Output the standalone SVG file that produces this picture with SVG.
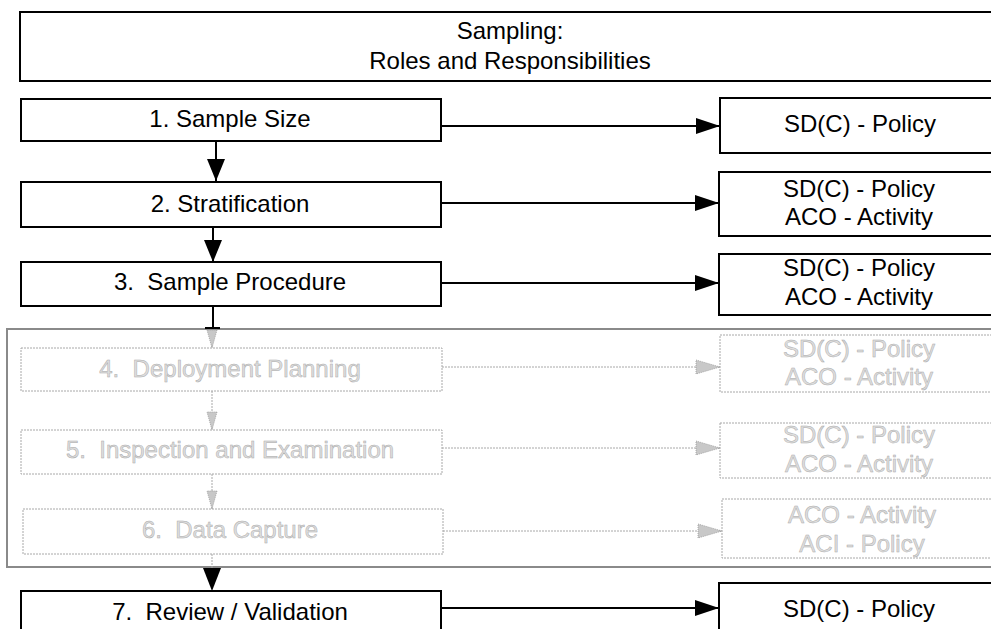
<svg xmlns="http://www.w3.org/2000/svg" width="991" height="629" viewBox="0 0 991 629">
<style>
  text { font-family: "Liberation Sans", Arial, sans-serif; font-size: 24px; text-anchor: middle; white-space: pre; }
  .box { fill: #ffffff; stroke: #000000; stroke-width: 2; }
  .dbox { fill: #ffffff; stroke: #a8a8a8; stroke-width: 1; stroke-dasharray: 2 1; }
  .dtext { fill: #dedede; stroke: #ababab; stroke-width: 0.5; }
  .conn { stroke: #000000; stroke-width: 2; fill: none; }
  .dconn { stroke: #a8a8a8; stroke-width: 1; stroke-dasharray: 2 1; fill: none; }
  .head { fill: #000000; }
  .group { fill: none; stroke: #8a8a8a; stroke-width: 2; }
</style>
<defs>
  <marker id="arrH" markerUnits="userSpaceOnUse" viewBox="0 0 24 16" markerWidth="24" markerHeight="16" refX="24" refY="8" orient="auto">
    <path d="M0,0 L24,8 L0,16 Z" fill="#000000"/>
  </marker>
  <marker id="arrV" markerUnits="userSpaceOnUse" viewBox="0 0 22 18" markerWidth="22" markerHeight="18" refX="22" refY="9" orient="auto">
    <path d="M0,0 L22,9 L0,18 Z" fill="#000000"/>
  </marker>
  <marker id="darrH" markerUnits="userSpaceOnUse" viewBox="0 0 26 16" markerWidth="26" markerHeight="16" refX="25" refY="8" orient="auto">
    <path d="M1,1 L25,8 L1,15 Z" fill="#c8c8c8" stroke="#9a9a9a" stroke-width="0.8" stroke-dasharray="1 1"/>
  </marker>
  <marker id="darrV" markerUnits="userSpaceOnUse" viewBox="0 0 20 12" markerWidth="20" markerHeight="12" refX="19" refY="6" orient="auto">
    <path d="M1,1 L19,6 L1,11 Z" fill="#c8c8c8" stroke="#9a9a9a" stroke-width="0.8" stroke-dasharray="1 1"/>
  </marker>
</defs>

<rect width="991" height="629" fill="#ffffff"/>

<g id="optional-group">
  <rect class="group" x="7" y="329" width="1000" height="238"/>
</g>

<g id="connectors">
  <line class="conn" x1="216" y1="141" x2="216" y2="181" marker-end="url(#arrV)"/>
  <line class="conn" x1="213" y1="227" x2="213" y2="262" marker-end="url(#arrV)"/>
  <line class="conn" x1="213" y1="306" x2="213" y2="328"/>
  <line class="conn" x1="205" y1="328" x2="220" y2="328"/>
  <line class="dconn" x1="212" y1="330" x2="212" y2="348" marker-end="url(#darrV)"/>
  <line class="dconn" x1="212" y1="391" x2="212" y2="430" marker-end="url(#darrV)"/>
  <line class="dconn" x1="212" y1="474" x2="212" y2="509" marker-end="url(#darrV)"/>
  <line class="dconn" x1="212" y1="554" x2="212" y2="568"/>
  <path class="head" d="M203,568 L221,568 L212,591 Z"/>
  <line class="conn" x1="441" y1="126" x2="720" y2="126" marker-end="url(#arrH)"/>
  <line class="conn" x1="441" y1="203" x2="719" y2="203" marker-end="url(#arrH)"/>
  <line class="conn" x1="441" y1="283" x2="719" y2="283" marker-end="url(#arrH)"/>
  <line class="dconn" x1="442" y1="367" x2="720" y2="367" marker-end="url(#darrH)"/>
  <line class="dconn" x1="442" y1="448" x2="720" y2="448" marker-end="url(#darrH)"/>
  <line class="dconn" x1="443" y1="531" x2="722" y2="531" marker-end="url(#darrH)"/>
  <line class="conn" x1="441" y1="608" x2="719" y2="608" marker-end="url(#arrH)"/>
</g>

<g id="title">
  <rect class="box" x="20" y="12" width="985" height="69"/>
  <text x="510" y="39">Sampling:</text>
  <text x="510" y="69">Roles and Responsibilities</text>
</g>

<g id="step1">
  <rect class="box" x="21" y="99" width="420" height="42"/>
  <text x="230" y="127">1. Sample Size</text>
</g>
<g id="role1">
  <rect class="box" x="720" y="98" width="285" height="55"/>
  <text x="860" y="132">SD(C) - Policy</text>
</g>

<g id="step2">
  <rect class="box" x="21" y="182" width="420" height="45"/>
  <text x="230" y="212">2. Stratification</text>
</g>
<g id="role2">
  <rect class="box" x="719" y="172" width="286" height="64"/>
  <text x="859" y="197">SD(C) - Policy</text>
  <text x="859" y="225">ACO - Activity</text>
</g>

<g id="step3">
  <rect class="box" x="21" y="262" width="420" height="44"/>
  <text x="230" y="290">3.  Sample Procedure</text>
</g>
<g id="role3">
  <rect class="box" x="719" y="254" width="286" height="61"/>
  <text x="859" y="276">SD(C) - Policy</text>
  <text x="859" y="305">ACO - Activity</text>
</g>

<g id="step4">
  <rect class="dbox" x="21" y="348" width="421" height="43"/>
  <text class="dtext" x="230" y="377">4.  Deployment Planning</text>
</g>
<g id="role4">
  <rect class="dbox" x="720" y="335" width="285" height="57"/>
  <text class="dtext" x="859" y="357">SD(C) - Policy</text>
  <text class="dtext" x="859" y="385">ACO - Activity</text>
</g>

<g id="step5">
  <rect class="dbox" x="21" y="430" width="421" height="44"/>
  <text class="dtext" x="230" y="458">5.  Inspection and Examination</text>
</g>
<g id="role5">
  <rect class="dbox" x="720" y="423" width="285" height="55"/>
  <text class="dtext" x="859" y="443">SD(C) - Policy</text>
  <text class="dtext" x="859" y="472">ACO - Activity</text>
</g>

<g id="step6">
  <rect class="dbox" x="23" y="509" width="420" height="45"/>
  <text class="dtext" x="230" y="538">6.  Data Capture</text>
</g>
<g id="role6">
  <rect class="dbox" x="722" y="499" width="283" height="59"/>
  <text class="dtext" x="862" y="523">ACO - Activity</text>
  <text class="dtext" x="862" y="552">ACI - Policy</text>
</g>

<g id="step7">
  <rect class="box" x="21" y="591" width="420" height="50"/>
  <text x="230" y="620">7.  Review / Validation</text>
</g>
<g id="role7">
  <rect class="box" x="719" y="583" width="286" height="58"/>
  <text x="859" y="617">SD(C) - Policy</text>
</g>
</svg>
